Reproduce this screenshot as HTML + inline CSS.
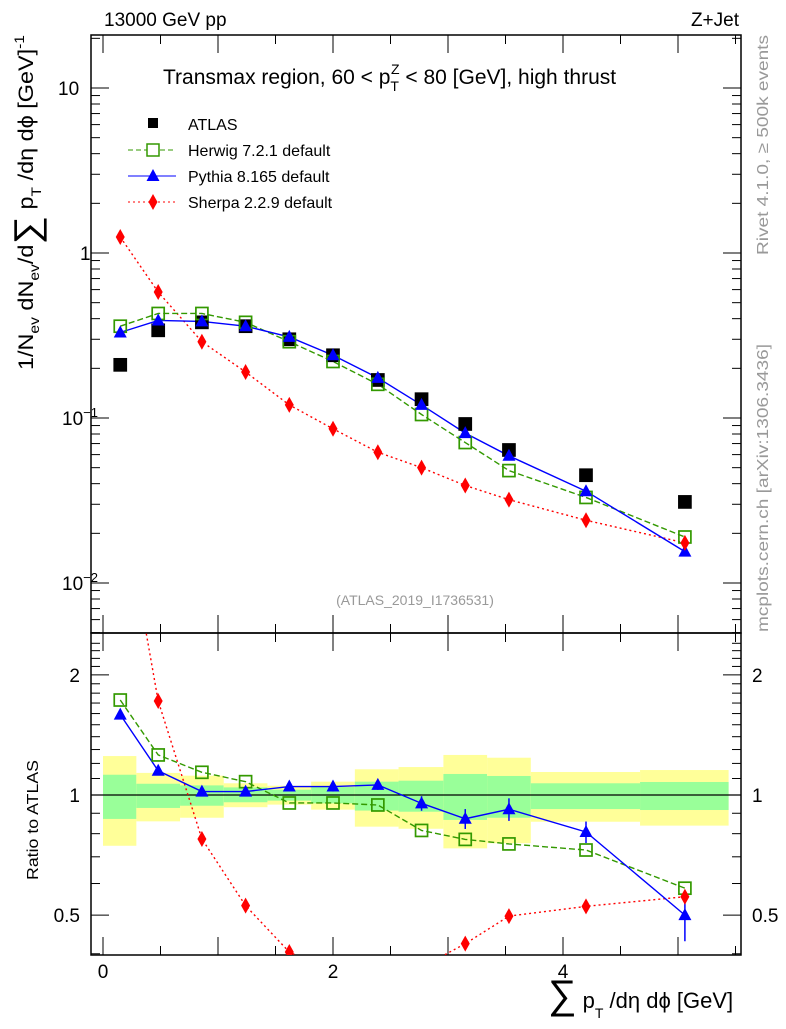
<!DOCTYPE html>
<html><head><meta charset="utf-8"><style>
body{margin:0;background:#fff}
svg text{font-family:"Liberation Sans",sans-serif}
</style></head><body>
<svg id="c" width="786" height="1024" viewBox="0 0 786 1024" xmlns="http://www.w3.org/2000/svg"></svg>
<script>
const xPts=[0.15,0.48,0.86,1.24,1.62,2.0,2.39,2.77,3.15,3.53,4.2,5.06];
const binEdges=[0,0.29,0.67,1.05,1.43,1.81,2.19,2.57,2.96,3.34,3.72,4.67,5.44];
const atlas=[0.21,0.34,0.38,0.36,0.30,0.24,0.17,0.13,0.092,0.064,0.045,0.031];
const herwig=[0.36,0.43,0.43,0.38,0.29,0.22,0.16,0.105,0.071,0.048,0.033,0.019];
const pythia=[0.33,0.39,0.385,0.36,0.31,0.24,0.175,0.12,0.081,0.059,0.036,0.0155];
const sherpa=[1.25,0.58,0.29,0.19,0.12,0.086,0.062,0.05,0.039,0.032,0.024,0.0175];
const rHerwig=[1.73,1.26,1.14,1.08,0.955,0.955,0.944,0.815,0.774,0.754,0.728,0.584];
const rPythia=[1.59,1.15,1.02,1.02,1.05,1.05,1.06,0.953,0.872,0.921,0.808,0.50];
const rPythiaErr=[0.03,0.03,0.02,0.02,0.02,0.03,0.03,0.04,0.05,0.06,0.05,0.07];
const rSherpa=[5.95,1.72,0.776,0.528,0.404,0.36,0.36,0.37,0.424,0.497,0.526,0.556];
const totHi=[1.252,1.136,1.118,1.070,1.055,1.080,1.160,1.175,1.260,1.240,1.142,1.155];
const totLo=[0.746,0.859,0.877,0.932,0.946,0.919,0.833,0.823,0.735,0.757,0.857,0.838];
const statHi=[1.124,1.067,1.057,1.045,1.031,1.047,1.080,1.086,1.129,1.116,1.070,1.078];
const statLo=[0.871,0.928,0.940,0.959,0.968,0.953,0.914,0.908,0.866,0.877,0.922,0.917];
const xTicks=[0,2,4];

const svg=document.getElementById('c');const NS='http://www.w3.org/2000/svg';
function el(t,a,p){const e=document.createElementNS(NS,t);for(const k in a)e.setAttribute(k,a[k]);(p||svg).appendChild(e);return e;}
const L=91,R=741,T=35,M=633,B=955;
const X=v=>103+115*v;
const Y=v=>253-165*Math.log10(v);
const YR=r=>795-399*Math.log10(r);
const defs=el('defs',{});
const c1=el('clipPath',{id:'ct'},defs);el('rect',{x:L,y:T,width:R-L,height:M-T},c1);
const c2=el('clipPath',{id:'cb'},defs);el('rect',{x:L,y:M,width:R-L,height:B-M},c2);
const gb=el('g',{'clip-path':'url(#cb)'});
for(let i=0;i<totHi.length;i++){
 let r=el('rect',{x:X(binEdges[i]),y:YR(totHi[i]),width:X(binEdges[i+1])-X(binEdges[i]),height:YR(totLo[i])-YR(totHi[i]),fill:'#ffff99'},gb);
 
 let s=el('rect',{x:X(binEdges[i]),y:YR(statHi[i]),width:X(binEdges[i+1])-X(binEdges[i]),height:YR(statLo[i])-YR(statHi[i]),fill:'#99ff99'},gb);
 
}
el('line',{x1:L,x2:R,y1:YR(1),y2:YR(1),stroke:'#000','stroke-width':1.3},gb);
el('rect',{x:L,y:T,width:R-L,height:M-T,fill:'none',stroke:'#000','stroke-width':1.5});
el('rect',{x:L,y:M,width:R-L,height:B-M,fill:'none',stroke:'#000','stroke-width':1.5});
for(let d=-3;d<=1;d++)for(let m=1;m<10;m++){const v=m*Math.pow(10,d);const y=Y(v);if(y<T||y>M)continue;const len=m==1?18:9;
 el('line',{x1:L,x2:L+len,y1:y,y2:y,stroke:'#000'});el('line',{x1:R-len,x2:R,y1:y,y2:y,stroke:'#000'});}
[[10,'10'],[1,'1'],[0.1,'10'],[0.01,'10']].forEach(([v,t],i)=>{const tx=el('text',{x:i>1?62:(i==0?58:80),y:Y(v)+7,'font-size':19});tx.textContent=t;
 if(i>1){const s=el('tspan',{dy:-8,'font-size':13},tx);s.textContent=i==2?'−1':'−2';}
 });
for(let r=0.4;r<=2.5;r+=0.1){const y=YR(r);if(y<M||y>B)continue;const big=Math.abs(r-1)<1e-6||Math.abs(r-2)<1e-6||Math.abs(r-0.5)<1e-6;const len=big?18:9;
 el('line',{x1:L,x2:L+len,y1:y,y2:y,stroke:'#000'});el('line',{x1:R-len,x2:R,y1:y,y2:y,stroke:'#000'});}
[[2,'2'],[1,'1'],[0.5,'0.5']].forEach(([v,t])=>{let a=el('text',{x:80,y:YR(v)+7,'font-size':19,'text-anchor':'end'});a.textContent=t;
 
 let b=el('text',{x:752,y:YR(v)+7,'font-size':19});b.textContent=t;
 });
for(let v=0;v<=5.5;v+=0.5){const x=X(v);const len=Number.isInteger(v)?18:9;
 [T,M].forEach(y0=>el('line',{x1:x,x2:x,y1:y0,y2:y0+len,stroke:'#000'}));
 [M,B].forEach(y0=>el('line',{x1:x,x2:x,y1:y0-len,y2:y0,stroke:'#000'}));}
xTicks.forEach(v=>{const t=el('text',{x:X(v),y:978,'font-size':19,'text-anchor':'middle'});t.textContent=v;
 });
function line(g,xs,ys,col,dash,w){el('polyline',{points:xs.map((x,i)=>X(x)+','+ys[i]).join(' '),fill:'none',stroke:col,'stroke-width':w||1.4,'stroke-dasharray':dash||'none'},g);}
function sq(g,x,y,fill,col){const r=el('rect',{x:x-6,y:y-6,width:12,height:12,fill:fill,stroke:col,'stroke-width':1.7},g);return r;}
function tri(g,x,y){return el('polygon',{points:`${x},${y-7} ${x-6.5},${y+5} ${x+6.5},${y+5}`,fill:'#0000ff'},g);}
function dia(g,x,y){return el('polygon',{points:`${x},${y-8} ${x-4.5},${y} ${x},${y+8} ${x+4.5},${y}`,fill:'#ff0000'},g);}
const gt=el('g',{'clip-path':'url(#ct)'});
line(gt,xPts,sherpa.map(Y),'#ff0000','2,3');
line(gt,xPts,herwig.map(Y),'#339900','6,3');
line(gt,xPts,pythia.map(Y),'#0000ff');
xPts.forEach((x,i)=>{let m=sq(gt,X(x),Y(atlas[i]),'#000','#000');
 m=sq(gt,X(x),Y(herwig[i]),'none','#339900');
 m=tri(gt,X(x),Y(pythia[i]));
 m=dia(gt,X(x),Y(sherpa[i]));});
const gr=el('g',{'clip-path':'url(#cb)'});
line(gr,xPts,rSherpa.map(YR),'#ff0000','2,3');
line(gr,xPts,rHerwig.map(YR),'#339900','6,3');
line(gr,xPts,rPythia.map(YR),'#0000ff');
xPts.forEach((x,i)=>{const e=rPythiaErr[i];
 el('line',{x1:X(x),x2:X(x),y1:YR(rPythia[i]+e),y2:YR(rPythia[i]-e),stroke:'#0000ff','stroke-width':1.5},gr);
 let m=sq(gr,X(x),YR(rHerwig[i]),'none','#339900');
 m=tri(gr,X(x),YR(rPythia[i]));
 m=dia(gr,X(x),YR(rSherpa[i]));});
</script>
<svg style="position:absolute;left:0;top:0" width="786" height="1024">
<text x="104" y="26" font-size="19" font-family="Liberation Sans">13000 GeV pp</text>
<text x="739" y="26" font-size="19" text-anchor="end" font-family="Liberation Sans">Z+Jet</text>
<text x="163" y="84" font-size="21" font-family="Liberation Sans">Transmax region, 60 &lt; p<tspan dy="7" font-size="14">T</tspan><tspan dy="-17" dx="-8" font-size="14">Z</tspan><tspan dy="10"> &lt; 80 [GeV], high thrust</tspan></text>
<g font-family="Liberation Sans" font-size="16">
<rect x="148" y="118" width="10" height="10" fill="#000"/><text x="188" y="130">ATLAS</text>
<line x1="128" x2="176" y1="150" y2="150" stroke="#339900" stroke-dasharray="5,3"/><rect x="147" y="144" width="12" height="12" fill="#fff" stroke="#339900" stroke-width="1.5"/><text x="188" y="156">Herwig 7.2.1 default</text>
<line x1="128" x2="176" y1="176" y2="176" stroke="#0000ff"/><polygon points="153,169 146.5,181 159.5,181" fill="#0000ff"/><text x="188" y="182">Pythia 8.165 default</text>
<line x1="128" x2="176" y1="202" y2="202" stroke="#ff0000" stroke-dasharray="2,3"/><polygon points="153,194 148.5,202 153,210 157.5,202" fill="#ff0000"/><text x="188" y="208">Sherpa 2.2.9 default</text>
</g>
<text x="415" y="605" font-size="14" fill="#999" text-anchor="middle" font-family="Liberation Sans">(ATLAS_2019_I1736531)</text>
<text transform="translate(768,255) rotate(-90)" font-size="16" textLength="220" lengthAdjust="spacingAndGlyphs" fill="#999" font-family="Liberation Sans">Rivet 4.1.0, ≥ 500k events</text>
<text transform="translate(768,632) rotate(-90)" font-size="16" textLength="288" lengthAdjust="spacingAndGlyphs" fill="#999" font-family="Liberation Sans">mcplots.cern.ch [arXiv:1306.3436]</text>
<text transform="translate(33,370) rotate(-90)" font-size="21" textLength="335" lengthAdjust="spacingAndGlyphs" font-family="Liberation Sans">1/N<tspan dy="6" font-size="14">ev</tspan><tspan dy="-6"> dN</tspan><tspan dy="6" font-size="14">ev</tspan><tspan dy="-6">/d</tspan><tspan font-size="36" dy="6">∑</tspan><tspan dy="-6"> p</tspan><tspan dy="8" font-size="14">T</tspan><tspan dy="-8"> /dη dϕ  [GeV]</tspan><tspan dy="-9" font-size="14">-1</tspan></text>
<text transform="translate(38,880) rotate(-90)" font-size="16" textLength="120" lengthAdjust="spacingAndGlyphs" font-family="Liberation Sans">Ratio to ATLAS</text>
<text x="548" y="1008" font-size="22" font-family="Liberation Sans"><tspan font-size="40">∑</tspan> p<tspan dy="10" font-size="14">T</tspan><tspan dy="-10"> /dη dϕ [GeV]</tspan></text>
</svg>
</body></html>
